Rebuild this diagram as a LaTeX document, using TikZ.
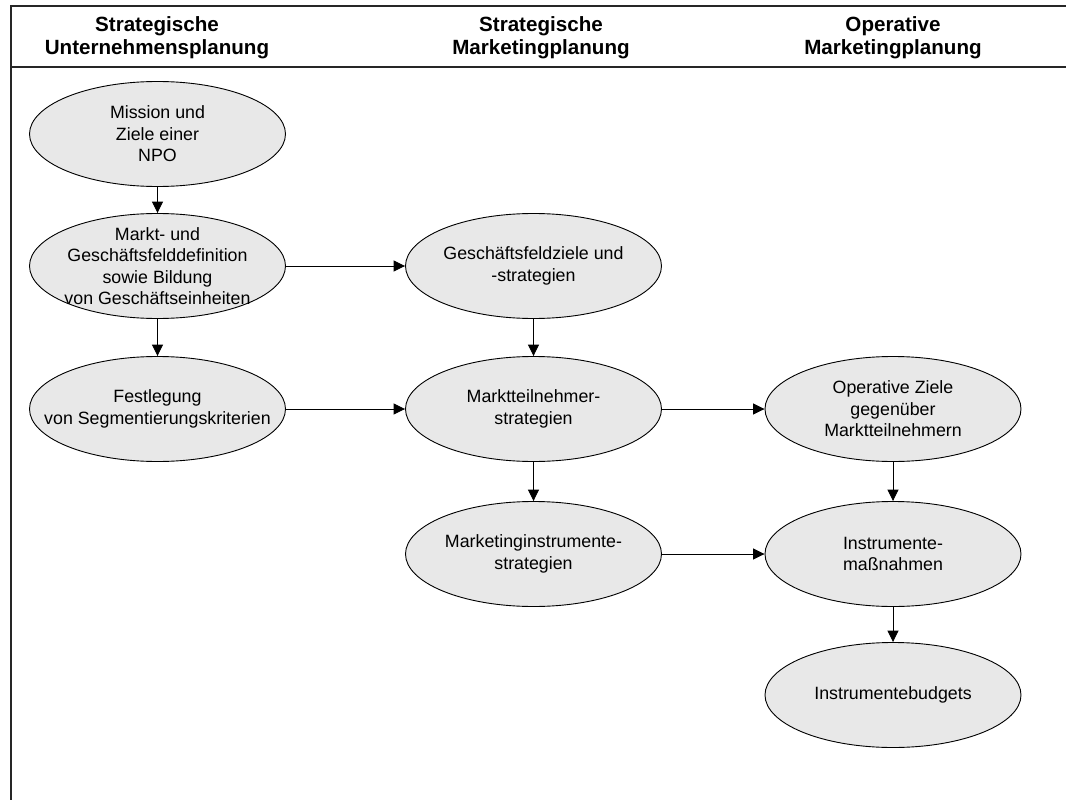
\documentclass[tikz,border=0pt]{standalone}
\usepackage{fontspec}
\setmainfont{Liberation Sans}
\usetikzlibrary{shapes.geometric,arrows.meta}
\definecolor{nodefill}{RGB}{232,232,232}
\begin{document}
\begin{tikzpicture}[x=1pt,y=-1pt,
  stage/.style={ellipse,draw=black,line width=0.9pt,fill=nodefill,
    minimum width=256pt,minimum height=105pt,inner sep=0pt},
  stagetext/.style={align=center,inner sep=0pt,
    font=\fontsize{17.8}{21.5}\selectfont},
  colhead/.style={align=center,inner sep=0pt,
    font=\fontsize{20.6}{23.2}\selectfont\bfseries},
  flow/.style={line width=0.9pt,-{Triangle[length=11.5pt,width=11pt]}},
  frameline/.style={line width=1.4pt,black!85}]
\useasboundingbox (0,0) rectangle (1066,800);

% outer frame (open to the right and bottom) and header rule
\draw[frameline] (11,820) -- (11,6) -- (1090,6);
\draw[frameline,line width=1.8pt] (11,67) -- (1090,67);

% column headings
\node[colhead] (h1) at (157,38) {Strategische\\Unternehmensplanung};
\node[colhead] (h2) at (541,38) {Strategische\\Marketingplanung};
\node[colhead] (h3) at (893,38) {Operative\\Marketingplanung};

% planning stages
\node[stage,label={[stagetext]center:Mission und\\Ziele einer\\NPO}] (mission) at (157.5,134) {};
\node[stage,label={[stagetext]center:Markt- und\\Geschäftsfelddefinition\\sowie Bildung\\von Geschäftseinheiten}] (markt) at (157.5,266) {};
\node[stage,label={[stagetext]center:Festlegung\\von Segmentierungskriterien}] (segment) at (157.5,409) {};

\node[stage,label={[stagetext]center:Geschäftsfeldziele und\\-strategien}] (gfziele) at (533.5,266) {};
\node[stage,label={[stagetext]center:Marktteilnehmer-\\strategien}] (mtstrat) at (533.5,409) {};
\node[stage,label={[stagetext]center:Marketinginstrumente-\\strategien}] (mistrat) at (533.5,554) {};

\node[stage,label={[stagetext]center:Operative Ziele\\gegenüber\\Marktteilnehmern}] (opziele) at (893,409) {};
\node[stage,label={[stagetext]center:Instrumente-\\maßnahmen}] (massn) at (893,554) {};
\node[stage,label={[stagetext]center:Instrumentebudgets}] (budget) at (893,695) {};

% connectors
\draw[flow] (mission) -- (markt);
\draw[flow] (markt) -- (segment);
\draw[flow] (markt) -- (gfziele);
\draw[flow] (segment) -- (mtstrat);
\draw[flow] (gfziele) -- (mtstrat);
\draw[flow] (mtstrat) -- (mistrat);
\draw[flow] (mtstrat) -- (opziele);
\draw[flow] (mistrat) -- (massn);
\draw[flow] (opziele) -- (massn);
\draw[flow] (massn) -- (budget);
\end{tikzpicture}
\end{document}
